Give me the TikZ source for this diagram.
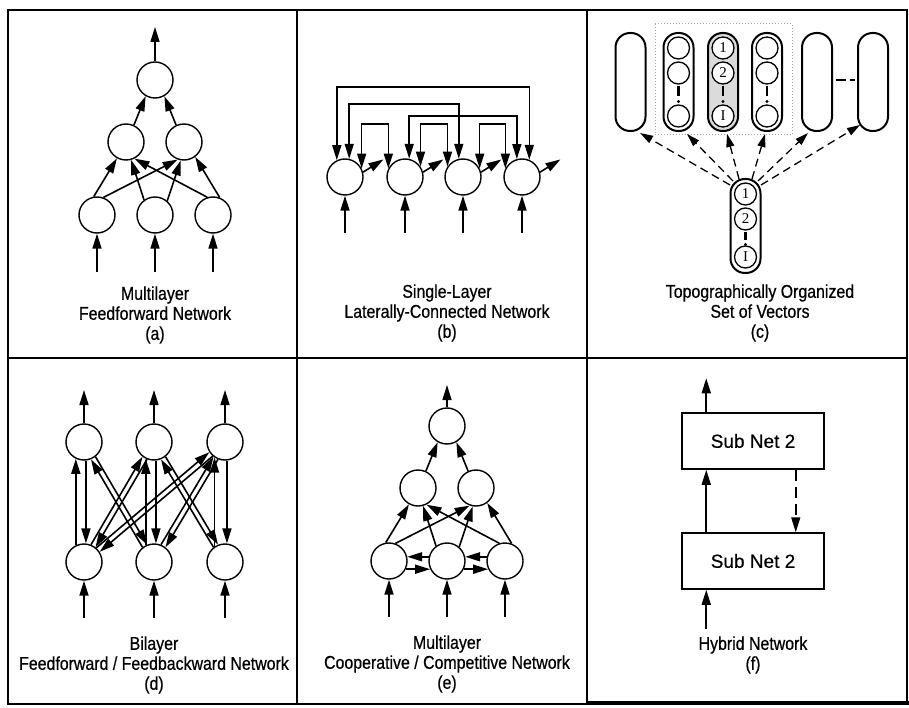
\documentclass[tikz,border=0pt]{standalone}
\usepackage{fontspec}
\setmainfont{Liberation Sans}
\newfontfamily\labfont[FakeStretch=0.86,FakeBold=0.6]{Liberation Sans}
\newfontfamily\boxfont[FakeBold=0.4]{Liberation Sans}
\newfontfamily\numfont{Liberation Serif}
\usetikzlibrary{arrows.meta,calc}
\tikzset{
 nd/.style={circle, draw, line width=1.4pt, minimum size=36pt, inner sep=0pt},
 tip/.tip={Triangle[length=15pt,width=9pt]},
 arr/.style={line width=1.6pt, -tip},
 darr/.style={line width=1.6pt, tip-tip},
 lab/.style={align=center, font=\labfont\fontsize{18.5}{20}\selectfont},
 pill/.style={draw, line width=2pt, rounded corners=14.5pt, minimum width=30pt, minimum height=98pt, inner sep=0pt},
 ic/.style={circle, draw, line width=1.3pt, minimum size=22pt, inner sep=0pt, fill=white, font=\numfont\fontsize{15}{15}\selectfont},
 dasharr/.style={line width=1.3pt, dash pattern=on 8pt off 5pt, -{Triangle[length=13pt,width=8pt]}},
 box/.style={draw, line width=1.5pt, minimum width=142pt, minimum height=56pt, font=\boxfont\fontsize{19}{22}\selectfont},
 framel/.style={line width=1.5pt}
}
\begin{document}
\begin{tikzpicture}[x=1pt,y=-1pt]
\useasboundingbox (0,0) rectangle (909,708);
% frame
\draw[framel] (8,10) rectangle (907,704);
\draw[framel] (297,10) -- (297,704);
\draw[framel] (587,10) -- (587,704);
\draw[framel] (8,358) -- (907,358);
\draw[line width=4pt] (587,703) -- (909,703);

% ---------- (a)
\node[nd] (a1) at (97,215) {};
\node[nd] (a2) at (155,215) {};
\node[nd] (a3) at (213,215) {};
\node[nd] (am1) at (126,142) {};
\node[nd] (am2) at (184,142) {};
\node[nd] (at) at (155,80) {};
\draw[arr] (at) -- ++(0,-53);
\foreach \q in {a1,a2,a3} \draw[arr] ($(\q)+(0,57)$) -- (\q);
\draw[arr] (a1.100) -- (am1.241);
\draw[arr] (a1.70) -- (am2.250);
\draw[arr] (a2.126) -- (am1.286);
\draw[arr] (a2.49) -- (am2.260);
\draw[arr] (a3.108) -- (am1.297);
\draw[arr] (a3.69) -- (am2.307);
\draw[arr] (am1.65) -- (at.240);
\draw[arr] (am2.115) -- (at.300);
\node[lab] (la) at (155,315) {Multilayer\\Feedforward Network\\(a)};

% ---------- (b)
\node[nd] (b1) at (345,177) {};
\node[nd] (b2) at (405,177) {};
\node[nd] (b3) at (463,177) {};
\node[nd] (b4) at (522,177) {};
\coordinate (bA) at (433,87);
\coordinate (bB) at (404,104);
\coordinate (bC) at (375,124);
\coordinate (bD) at (463,116);
\coordinate (bE) at (434,124);
\coordinate (bF) at (492,124);
\draw[darr] (b1.116) |- (bA) -| (b4.67);
\draw[darr] (b1.77) |- (bB) -| (b3.103);
\draw[darr] (b1.27) |- (bC) -| (b2.153);
\draw[darr] (b2.77) |- (bD) -| (b4.106);
\draw[darr] (b2.34) |- (bE) -| (b3.146);
\draw[darr] (b3.27) |- (bF) -| (b4.153);
\foreach \q in {b1,b2,b3,b4} {
  \draw[arr] (\q.15) -- ++(-32:24);
  \draw[arr] ($(\q)+(0,56)$) -- (\q);
}
\node[lab] (lb) at (447,313) {Single-Layer\\Laterally-Connected Network\\(b)};

% ---------- (c)
\draw[gray!70, dotted, line width=1pt] (655,24) rectangle (792,135);
\node[pill] (p1) at (630.5,82) {};
\node[pill] (p2) at (678.5,82) {};
\node[pill, fill=gray!28] (p3) at (723,82) {};
\node[pill] (p4) at (767,82) {};
\node[pill] (p5) at (817,82) {};
\node[pill] (p6) at (873,82) {};
\foreach \q/\xx in {p2/678.5,p4/767} {
  \node[ic] (\q a) at (\xx,48) {};
  \node[ic] (\q b) at (\xx,73) {};
  \node[ic] (\q c) at (\xx,116) {};
  \draw[line width=2.4pt] (\xx,86) -- (\xx,96);
  \fill (\xx,101.5) circle (1.7);
}
\node[ic] (p3a) at (723,48) {1};
\node[ic] (p3b) at (723,73) {2};
\node[ic] (p3c) at (723,116) {I};
\draw[line width=2.4pt] (723,86) -- (723,96);
\fill (723,101.5) circle (1.7);
\draw[line width=2.4pt] (836,80) -- (846,80);
\draw[line width=2.4pt] (850,80) -- (855,80);
\node[pill, minimum height=94pt] (v0) at (745.5,226) {};
\node[ic] (v0a) at (745.5,194) {1};
\node[ic] (v0b) at (745.5,219) {2};
\node[ic] (v0c) at (745.5,257) {I};
\draw[line width=2.4pt] (745.5,232) -- (745.5,240);
\fill (745.5,244.5) circle (1.7);
\draw[dasharr] ($(v0.north)+(-15.5,7)$) -- ($(p1.south)+(9.5,1)$);
\draw[dasharr] ($(v0.north)+(-12.5,3)$) -- ($(p2.south)+(8.5,2)$);
\draw[dasharr] ($(v0.north)+(-6.5,1)$) -- ($(p3.south)+(4,2)$);
\draw[dasharr] ($(v0.north)+(6.5,1)$) -- ($(p4.south)+(-2,2)$);
\draw[dasharr] ($(v0.north)+(12.5,3)$) -- ($(p5.south)+(-9,1)$);
\draw[dasharr] ($(v0.north)+(15.5,7)$) -- ($(p6.south)+(-13,-7)$);
\node[lab] (lc) at (760,313) {Topographically Organized\\Set of Vectors\\(c)};

% ---------- (d)
\node[nd] (dt1) at (84,442) {};
\node[nd] (dt2) at (154,442) {};
\node[nd] (dt3) at (225,442) {};
\node[nd] (db1) at (84,562) {};
\node[nd] (db2) at (154,562) {};
\node[nd] (db3) at (225,562) {};
\foreach \q in {dt1,dt2,dt3} \draw[arr] (\q) -- ++(0,-52);
\foreach \q in {db1,db2,db3} \draw[arr] ($(\q)+(0,56)$) -- (\q);
\draw[arr] (db1.116) -- (dt1.244);
\draw[arr] (dt1.276) -- (db1.84);
\draw[arr] (db2.116) -- (dt2.244);
\draw[arr] (dt2.276) -- (db2.84);
\draw[arr] (db3.124) -- (dt3.236);
\draw[arr] (dt3.276) -- (db3.84);
\draw[arr] (db2.128) -- (dt1.292);
\draw[arr] (dt1.308) -- (db2.112);
\draw[arr] (db1.68) -- (dt2.232);
\draw[arr] (dt2.248) -- (db1.52);
\draw[arr] (db3.128) -- (dt2.292);
\draw[arr] (dt2.308) -- (db3.112);
\draw[arr] (db1.49) -- (dt3.213);
\draw[arr] (dt3.229) -- (db1.33);
\draw[arr] (db2.68) -- (dt3.232);
\draw[arr] (dt3.248) -- (db2.52);
\node[lab] (ld) at (154,665) {Bilayer\\Feedforward / Feedbackward Network\\(d)};

% ---------- (e)
\node[nd] (e1) at (389,561) {};
\node[nd] (e2) at (447,561) {};
\node[nd] (e3) at (505,561) {};
\node[nd] (em1) at (418,488) {};
\node[nd] (em2) at (476,488) {};
\node[nd] (et) at (447,426) {};
\draw[arr] (et) -- ++(0,-41);
\foreach \q in {e1,e2,e3} \draw[arr] ($(\q)+(0,56)$) -- (\q);
\draw[arr] (e1.100) -- (em1.241);
\draw[arr] (e1.70) -- (em2.250);
\draw[arr] (e2.126) -- (em1.286);
\draw[arr] (e2.49) -- (em2.260);
\draw[arr] (e3.108) -- (em1.297);
\draw[arr] (e3.69) -- (em2.307);
\draw[arr] (em1.65) -- (et.240);
\draw[arr] (em2.115) -- (et.300);
\draw[arr] (e2.167) -- (e1.13);
\draw[arr] (e1.334) -- (e2.206);
\draw[arr] (e3.167) -- (e2.13);
\draw[arr] (e2.334) -- (e3.206);
\node[lab] (le) at (447,664) {Multilayer\\Cooperative / Competitive Network\\(e)};

% ---------- (f)
\node[box] (s2) at (753,441) {Sub Net 2};
\node[box] (s1) at (753,561) {Sub Net 2};
\draw[arr] ($(s2.north west)+(25,0)$) -- ++(0,-34);
\draw[arr] ($(s1.north west)+(25,0)$) -- ($(s2.south west)+(25,0)$);
\draw[arr] ($(s1.south west)+(25,39)$) -- ($(s1.south west)+(25,0)$);
\draw[line width=1.5pt, dash pattern=on 11pt off 6pt, -tip] ($(s2.south east)+(-29,0)$) -- ($(s1.north east)+(-29,0)$);
\node[lab] (lf) at (753,655) {Hybrid Network\\(f)};
\end{tikzpicture}
\end{document}
